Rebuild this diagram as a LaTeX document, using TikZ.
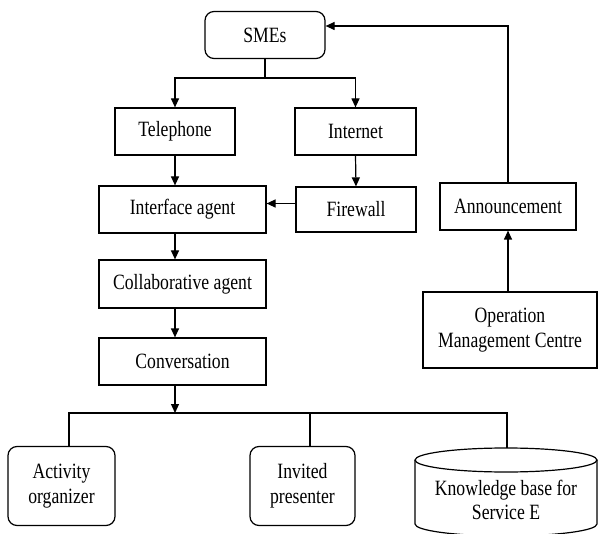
\documentclass[tikz,border=0pt]{standalone}
\usepackage{fontspec}
\setmainfont[FakeStretch=0.81]{Liberation Serif}
\usetikzlibrary{arrows.meta,calc}
\begin{document}
\begin{tikzpicture}[x=1pt,y=-1pt,
  box/.style={draw, line width=1.2pt, minimum width=#1, minimum height=47pt,
              inner sep=0pt, align=center, font=\fontsize{21.8}{25}\selectfont},
  rbox/.style={box=#1, rounded corners=9pt},
  ln/.style={line width=1.2pt},
  arr/.style={line width=1.2pt, -{Triangle[length=9pt,width=8pt]}}]
\useasboundingbox (0,0) rectangle (599,534);

% upper chain
\node[rbox=120pt] (sme) at (265,35) {SMEs};
\node[box=120pt] (tel) at (175,131.5) {Telephone};
\node[box=121pt] (inet) at (355.5,131.5) {Internet};
\node[box=120pt, minimum height=45pt] (fw) at (356,209.5) {Firewall};
\node[box=167pt] (iface) at (182.5,209.5) {Interface agent};
\node[box=167pt, minimum height=48pt] (collab) at (182.5,284) {Collaborative agent};
\node[box=167pt] (conv) at (182.5,361.5) {Conversation};

% right branch
\node[box=136pt] (ann) at (508,206.5) {Announcement};
\node[box=174pt, minimum height=76pt] (omc) at (510,330) {Operation\\Management Centre};

% bottom row
\node[rbox=107pt, minimum height=79pt] (act) at (61.5,486) {Activity\\organizer};
\node[rbox=105pt, minimum height=79pt] (inv) at (302.5,486) {Invited\\presenter};
\node[align=center, inner sep=0pt, font=\fontsize{21.8}{24}\selectfont] (kb) at (506,500) {Knowledge base for\\Service E};
\coordinate (kbtop) at (507,448);
% database cylinder around the knowledge base
\draw[ln] (415,460) -- (415,524) arc[start angle=180, end angle=0, x radius=91, y radius=12] -- (597,460);
\draw[ln] (506,460) ellipse[x radius=91, y radius=12];

% connectors
\coordinate (top) at ($(sme.south)+(0,19)$);
\draw[ln] (sme.south) -- (top);
\draw[arr] (top) -| (tel.north);
\draw[arr] (top) -| (inet.north);
\draw[arr] (inet.south) -- (fw.north);
\draw[arr] (tel.south) -- (tel.south |- iface.north);
\draw[arr] ([yshift=6]fw.west) -- ([yshift=6]fw.west -| iface.east);
\draw[arr] (tel.south |- iface.south) -- (tel.south |- collab.north);
\draw[arr] (tel.south |- collab.south) -- (tel.south |- conv.north);
\coordinate (bj) at (175,413);
\draw[arr] (tel.south |- conv.south) -- (bj);
\draw[ln] ([xshift=7.5]act.north) |- (bj) -| ([xshift=7.5]inv.north);
\draw[ln] (bj) -| (kbtop);
\draw[arr] (omc.north -| ann.south) -- (ann.south);
\draw[arr] (ann.north) |- ([yshift=9]sme.east);
\end{tikzpicture}
\end{document}
